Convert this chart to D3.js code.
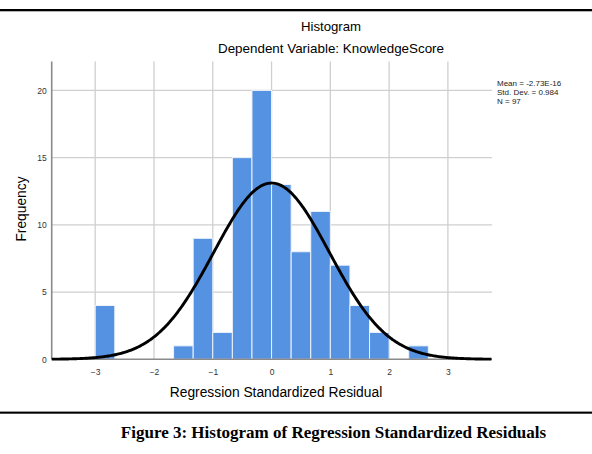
<!DOCTYPE html>
<html>
<head>
<meta charset="utf-8">
<script src="https://cdn.jsdelivr.net/npm/d3@7"></script>
<style>
  html, body { margin: 0; padding: 0; background: #fff; }
  svg { display: block; }
</style>
</head>
<body>
<svg id="chart" width="592" height="454"></svg>
<script>
// ---- data ----
const binStarts = [-3, -5/3, -4/3, -1, -2/3, -1/3, 0, 1/3, 2/3, 1, 4/3, 5/3, 7/3];
const counts    = [4, 1, 9, 2, 15, 20, 13, 8, 11, 7, 4, 2, 1];
const binWidth  = 1/3;
const xTicks = [-3, -2, -1, 0, 1, 2, 3];
const yTicks = [0, 5, 10, 15, 20];
const statMean = -2.73e-16;
const statSD = 0.984;
const statN = 97;
const legendLines = ["Mean = -2.73E-16", "Std. Dev. = 0.984", "N = 97"];
const titleText = "Histogram";
const subtitleText = "Dependent Variable: KnowledgeScore";
const xLabel = "Regression Standardized Residual";
const yLabel = "Frequency";
const caption = "Figure 3: Histogram of Regression Standardized Residuals";

// ---- layout ----
const svg = d3.select("#chart");
const pLeft = 51.7, pRight = 492, pTop = 61.5, pBottom = 359.3;
const x = d3.scaleLinear().domain([-3.74, 3.75]).range([pLeft, pRight]);
const y = d3.scaleLinear().domain([0, 22.15]).range([pBottom, pTop]);
const sans = "Liberation Sans, Arial, sans-serif";

// rules
svg.append("rect").attr("x", 0).attr("y", 9).attr("width", 592).attr("height", 2.3).attr("fill", "#000");
svg.append("rect").attr("x", 0).attr("y", 411.6).attr("width", 592).attr("height", 2.1).attr("fill", "#000");

// titles
svg.append("text").attr("x", 331).attr("y", 30.5).attr("text-anchor", "middle")
  .attr("font-family", sans).attr("font-size", 13.2)
  .attr("fill", "#000").text(titleText);
svg.append("text").attr("x", 331).attr("y", 52.8).attr("text-anchor", "middle")
  .attr("font-family", sans).attr("font-size", 13.4)
  .attr("fill", "#000").text(subtitleText);

// gridlines
const grid = svg.append("g");
grid.selectAll("line.v").data(xTicks).join("line")
  .attr("x1", d => x(d)).attr("x2", d => x(d)).attr("y1", pTop).attr("y2", pBottom)
  .attr("stroke", "#cfcfcf").attr("stroke-width", 1.3);
grid.selectAll("line.h").data(yTicks.filter(d => d > 0)).join("line")
  .attr("x1", pLeft).attr("x2", pRight).attr("y1", d => y(d)).attr("y2", d => y(d))
  .attr("stroke", "#cfcfcf").attr("stroke-width", 1.3);

// bars
const bars = binStarts.map((s, i) => ({ x0: s, x1: s + binWidth, n: counts[i] }));
svg.append("g").selectAll("rect").data(bars).join("rect")
  .attr("x", d => x(d.x0)).attr("width", d => x(d.x1) - x(d.x0))
  .attr("y", d => y(d.n)).attr("height", d => y(0) - y(d.n))
  .attr("fill", "#5592e2").attr("stroke", "#eef3fb").attr("stroke-width", 1);

// axes lines
svg.append("line").attr("x1", pLeft).attr("x2", pLeft).attr("y1", pTop).attr("y2", pBottom)
  .attr("stroke", "#8a8a8a").attr("stroke-width", 1.6);
svg.append("line").attr("x1", pLeft).attr("x2", pRight).attr("y1", pBottom).attr("y2", pBottom)
  .attr("stroke", "#8a8a8a").attr("stroke-width", 1.6);

// tick labels via axes
const xAxis = d3.axisBottom(x).tickValues(xTicks).tickSize(0).tickPadding(10).tickFormat(d3.format("d"));
const gx = svg.append("g").attr("transform", `translate(0,${pBottom})`).call(xAxis);
gx.select(".domain").remove();
gx.selectAll("text").attr("font-family", sans).attr("font-size", 8.5).attr("fill", "#333");

const yAxis = d3.axisLeft(y).tickValues(yTicks).tickSize(0).tickPadding(5).tickFormat(d3.format("d"));
const gy = svg.append("g").attr("transform", `translate(${pLeft},0)`).call(yAxis);
gy.select(".domain").remove();
gy.selectAll("text").attr("font-family", sans).attr("font-size", 8.5).attr("fill", "#333");

// normal curve
const pdf = v => Math.exp(-0.5 * Math.pow((v - statMean) / statSD, 2)) / (statSD * Math.sqrt(2 * Math.PI));
const curvePts = d3.range(-3.74, 3.7501, 0.02).map(v => [v, statN * binWidth * pdf(v)]);
svg.append("path").datum(curvePts)
  .attr("d", d3.line().x(d => x(d[0])).y(d => y(d[1])).curve(d3.curveBasis))
  .attr("fill", "none").attr("stroke", "#000").attr("stroke-width", 2.9);

// legend
svg.append("g").selectAll("text").data(legendLines).join("text")
  .attr("x", 497).attr("y", (d, i) => 85.5 + i * 9)
  .attr("font-family", sans).attr("font-size", 8)
  .attr("fill", "#222").text(d => d);

// axis titles
svg.append("text").attr("transform", "translate(26,209) rotate(-90)").attr("text-anchor", "middle")
  .attr("font-family", sans).attr("font-size", 13.8)
  .attr("fill", "#000").text(yLabel);
svg.append("text").attr("x", 276).attr("y", 397).attr("text-anchor", "middle")
  .attr("font-family", sans).attr("font-size", 13.8)
  .attr("fill", "#000").text(xLabel);

// caption
svg.append("text").attr("x", 333.5).attr("y", 438).attr("text-anchor", "middle")
  .attr("font-family", "Liberation Serif, Times New Roman, serif").attr("font-weight", "bold")
  .attr("font-size", 17).attr("fill", "#000").text(caption);
</script>
</body>
</html>
